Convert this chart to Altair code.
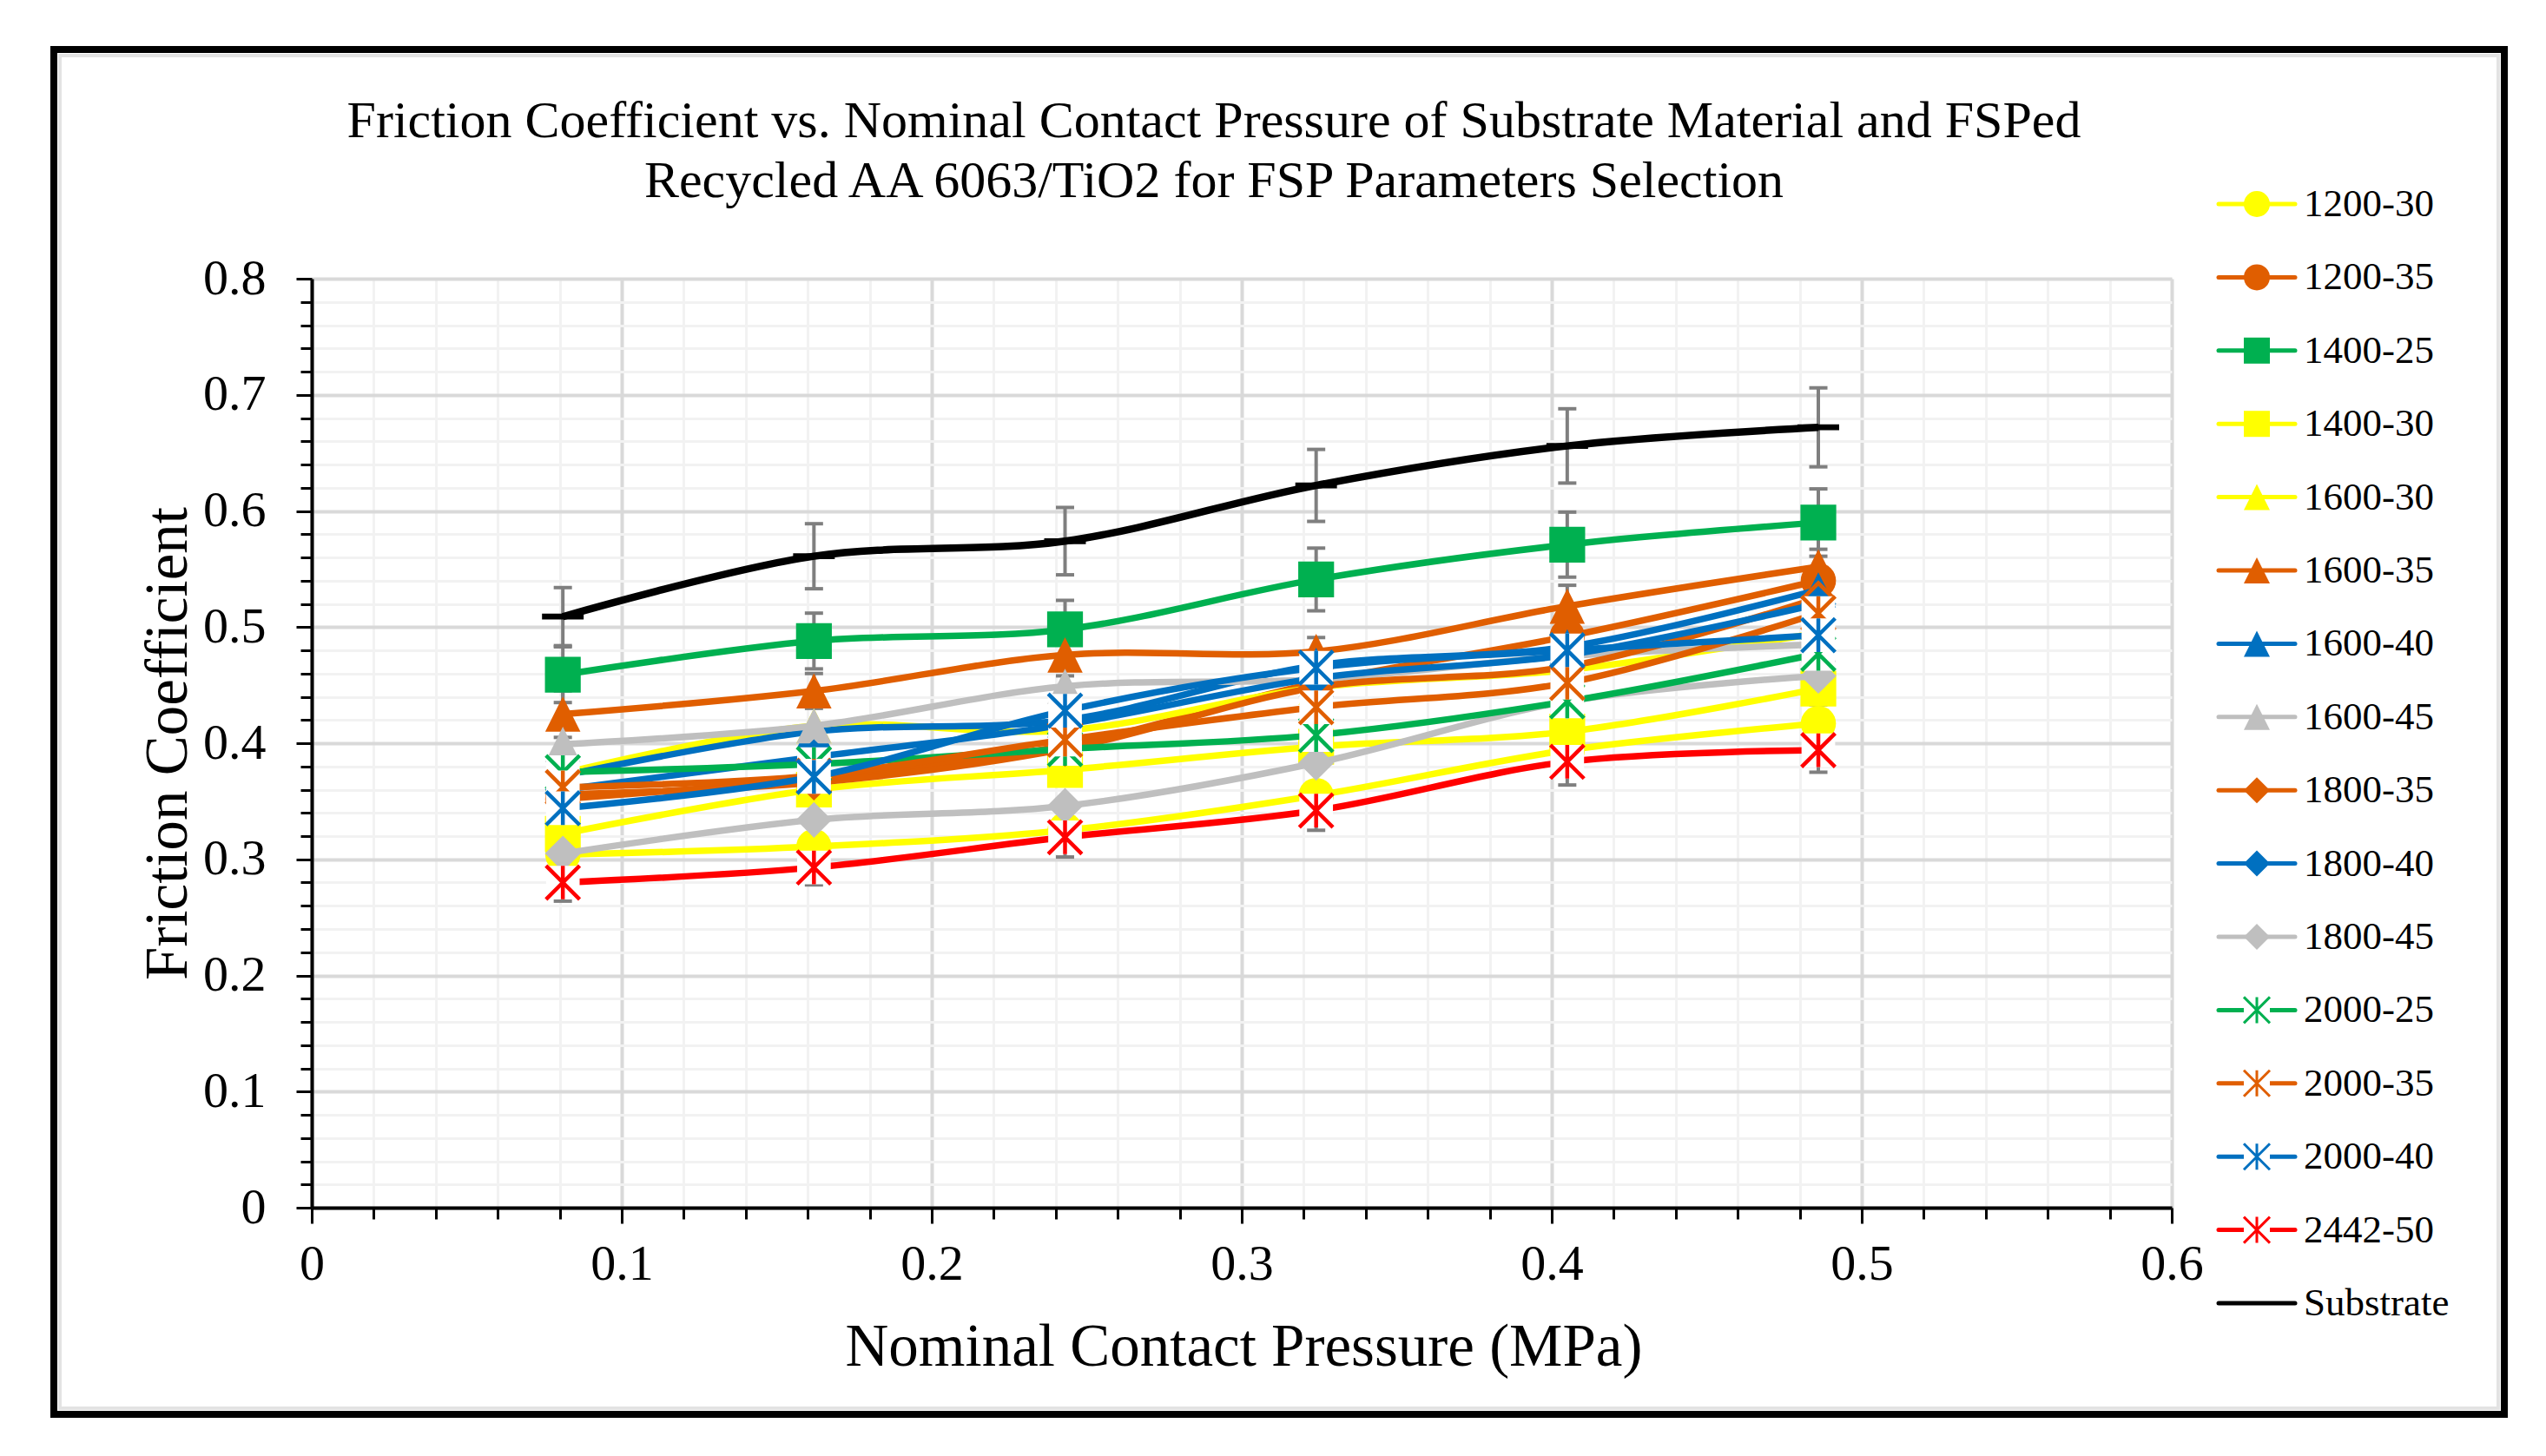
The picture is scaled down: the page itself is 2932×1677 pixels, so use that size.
import altair as alt
import pandas as pd

# ---------------- data ----------------
pressure = [0.081, 0.162, 0.243, 0.324, 0.405, 0.486]

series_names = ["1200-30", "1200-35", "1400-25", "1400-30", "1600-30", "1600-35",
                "1600-40", "1600-45", "1800-35", "1800-40", "1800-45", "2000-25",
                "2000-35", "2000-40", "2442-50", "Substrate"]

v_1200_30 = [0.304, 0.311, 0.325, 0.355, 0.394, 0.417]
v_1200_35 = [0.352, 0.370, 0.398, 0.452, 0.492, 0.540]
v_1400_25 = [0.459, 0.488, 0.498, 0.541, 0.571, 0.590]
v_1400_30 = [0.322, 0.360, 0.377, 0.397, 0.410, 0.447]
v_1600_30 = [0.374, 0.415, 0.411, 0.448, 0.463, 0.495]
v_1600_35 = [0.425, 0.445, 0.476, 0.479, 0.518, 0.552]
v_1600_40 = [0.372, 0.410, 0.420, 0.467, 0.483, 0.532]
v_1600_45 = [0.399, 0.415, 0.449, 0.455, 0.475, 0.485]
v_1800_35 = [0.356, 0.366, 0.395, 0.448, 0.466, 0.525]
v_1800_40 = [0.360, 0.388, 0.416, 0.456, 0.476, 0.520]
v_1800_45 = [0.305, 0.334, 0.346, 0.383, 0.436, 0.458]
v_2000_25 = [0.375, 0.382, 0.395, 0.407, 0.436, 0.477]
v_2000_35 = [0.362, 0.372, 0.403, 0.431, 0.452, 0.512]
v_2000_40 = [0.344, 0.371, 0.428, 0.465, 0.480, 0.493]
v_2442_50 = [0.280, 0.293, 0.319, 0.342, 0.384, 0.394]
v_substrate = [0.509, 0.561, 0.574, 0.622, 0.656, 0.672]

err_1400_25 = [0.024, 0.024, 0.025, 0.027, 0.028, 0.029]
err_1400_30 = [0.012, 0.013, 0.013, 0.012, 0.012, 0.014]
err_1600_35 = [0.020, 0.015, 0.018, 0.012, 0.018, 0.015]
err_2442_50 = [0.016, 0.015, 0.017, 0.017, 0.020, 0.019]
err_substrate = [0.025, 0.028, 0.029, 0.031, 0.032, 0.034]

series_colors = ["#FFFF00", "#E05E00", "#00B050", "#FFFF00", "#FFFF00", "#E05E00",
                 "#0070C0", "#BFBFBF", "#E05E00", "#0070C0", "#BFBFBF", "#00B050",
                 "#E05E00", "#0070C0", "#FF0000", "#000000"]
series_markers = ["circle", "circle", "square", "square", "triangle", "triangle",
                  "triangle", "triangle", "diamond", "diamond", "diamond", "star",
                  "star", "star", "star", "dash"]

title_lines = ["Friction Coefficient vs. Nominal Contact Pressure of Substrate Material and FSPed",
               "Recycled AA 6063/TiO2 for FSP Parameters Selection"]
x_title = "Nominal Contact Pressure (MPa)"
y_title = "Friction Coefficient"

# ---------------- build tables ----------------
values = dict(zip(series_names, [v_1200_30, v_1200_35, v_1400_25, v_1400_30, v_1600_30,
                                 v_1600_35, v_1600_40, v_1600_45, v_1800_35, v_1800_40,
                                 v_1800_45, v_2000_25, v_2000_35, v_2000_40, v_2442_50,
                                 v_substrate]))
errors = {"1400-25": err_1400_25, "1400-30": err_1400_30, "1600-35": err_1600_35,
          "2442-50": err_2442_50, "Substrate": err_substrate}

rows = []
for name in series_names:
    for i, xv in enumerate(pressure):
        yv = values[name][i]
        e = errors.get(name)
        rows.append({"series": name, "x": xv, "y": yv,
                     "lo": (yv - e[i]) if e else None,
                     "hi": (yv + e[i]) if e else None})
df = pd.DataFrame(rows)
err_df = df.dropna(subset=["lo"])

SHAPES = {
    "circle": "circle",
    "square": "square",
    "triangle": "M0,-1L1,1L-1,1Z",
    "diamond": "diamond",
    "star": "M-1,-1L1,1M-1,1L1,-1M0,-1L0,1",
    "dash": "M-1,-0.14L1,-0.14L1,0.14L-1,0.14Z",
}
SIZES = {"circle": 1650, "square": 1700, "triangle": 1650, "diamond": 1700,
         "star": 1500, "dash": 2300}

FONT = "Liberation Serif"
W, H = 2142, 1070

major = "abs(datum.value*10 - round(datum.value*10)) < 0.001"
x_tick_vals = [round(i * 0.02, 2) for i in range(31)]
y_tick_vals = [round(i * 0.02, 2) for i in range(41)]

common_axis = dict(
    domainColor="black", domainWidth=4, tickColor="black", tickWidth=3,
    tickSize={"condition": {"test": major, "value": 18}, "value": 13},
    grid=True,
    gridColor={"condition": {"test": major, "value": "#D9D9D9"}, "value": "#F2F2F2"},
    gridWidth={"condition": {"test": major, "value": 4}, "value": 3},
    labelFont=FONT, labelFontSize=58, labelColor="black", labelOverlap=False,
    labelFlush=False, labelBound=False,
    labelExpr=f"{major} ? format(datum.value, '.1~f') : ''",
    titleFont=FONT, titleFontSize=69, titleFontWeight="normal", titleColor="black",
)
x_axis = alt.Axis(values=x_tick_vals, title=x_title, labelPadding=18,
                  titleX=1073, titleY=181, titleAlign="center", titleBaseline="alphabetic",
                  **common_axis)
y_axis = alt.Axis(values=y_tick_vals, title=y_title, labelPadding=35,
                  titleX=-145, titleY=535, titleAngle=-90, titleAlign="center",
                  titleBaseline="alphabetic", **common_axis)

xs = alt.Scale(domain=[0, 0.6], nice=False, zero=False)
ys = alt.Scale(domain=[0, 0.8], nice=False, zero=False)

def X(field="x"):
    return alt.X(f"{field}:Q", scale=xs, axis=x_axis)

def Y(field):
    return alt.Y(f"{field}:Q", scale=ys, axis=y_axis)

frame_df = pd.DataFrame({"f": [1]})
layers = []
# outer frame
layers.append(alt.Chart(frame_df).mark_rect(filled=False, color="black", stroke="black", strokeWidth=8).encode(
    x=alt.value(-297), x2=alt.value(2525), y=alt.value(-264), y2=alt.value(1308)))
layers.append(alt.Chart(frame_df).mark_rect(filled=False, color="#E3E3E3", stroke="#E3E3E3", strokeWidth=4).encode(
    x=alt.value(-290), x2=alt.value(2518), y=alt.value(-257), y2=alt.value(1301)))

# error bars
layers.append(alt.Chart(err_df).mark_rule(color="#7F7F7F", strokeWidth=4).encode(
    x=X(), y=Y("lo"), y2=alt.Y2("hi:Q")))
layers.append(alt.Chart(err_df).mark_tick(color="#7F7F7F", thickness=4, size=21, orient="horizontal", opacity=1).encode(
    x=X(), y=Y("lo")))
layers.append(alt.Chart(err_df).mark_tick(color="#7F7F7F", thickness=4, size=21, orient="horizontal", opacity=1).encode(
    x=X(), y=Y("hi")))

for name, col, mk in zip(series_names, series_colors, series_markers):
    sub = df[df["series"] == name]
    lw = 8.5 if name == "Substrate" else 7.5
    layers.append(alt.Chart(sub).mark_line(color=col, strokeWidth=lw, interpolate="catmull-rom").encode(
        x=X(), y=Y("y")))
    if mk == "star":
        layers.append(alt.Chart(sub).mark_point(shape="square", filled=True, color="white",
                                                size=SIZES[mk], opacity=1).encode(x=X(), y=Y("y")))
        layers.append(alt.Chart(sub).mark_point(shape=SHAPES[mk], filled=False, color=col,
                                                strokeWidth=4.5, size=SIZES[mk], opacity=1).encode(x=X(), y=Y("y")))
    else:
        layers.append(alt.Chart(sub).mark_point(shape=SHAPES[mk], filled=True, color=col,
                                                size=SIZES[mk], opacity=1, strokeWidth=0).encode(x=X(), y=Y("y")))

main = alt.layer(*layers)

# ---------------- manual legend ----------------
leg_df = pd.DataFrame({"series": series_names, "color": series_colors, "marker": series_markers})
marker_names = [n for n, m in zip(series_names, series_markers) if m != "dash"]
marker_paths = [SHAPES[m] for m in series_markers if m != "dash"]
leg_y = alt.Y("series:N", scale=alt.Scale(type="point", domain=series_names, range=[-86, 1180], padding=0), axis=None)
leg_color = alt.Color("series:N", scale=alt.Scale(domain=series_names, range=series_colors), legend=None)
leg_shape = alt.Shape("series:N", scale=alt.Scale(domain=marker_names, range=marker_paths), legend=None)

leg_base = alt.Chart(leg_df)
leg_line = leg_base.mark_rule(strokeWidth=5, strokeCap="round").encode(
    y=leg_y, x=alt.value(2196), x2=alt.value(2284), color=leg_color)
leg_fill = leg_base.transform_filter(
    "datum.marker != 'star' && datum.marker != 'dash'").mark_point(filled=True, size=900, opacity=1, strokeWidth=0).encode(
    y=leg_y, x=alt.value(2240), color=leg_color, shape=leg_shape)
leg_box = leg_base.transform_filter("datum.marker == 'star'").mark_point(
    filled=True, shape="square", color="white", size=900, opacity=1).encode(y=leg_y, x=alt.value(2240))
leg_star = leg_base.transform_filter("datum.marker == 'star'").mark_point(
    filled=False, size=900, opacity=1, strokeWidth=3).encode(
    y=leg_y, x=alt.value(2240), color=leg_color, shape=leg_shape)
leg_text = leg_base.mark_text(align="left", baseline="middle", font=FONT, fontSize=45, color="black").encode(
    y=leg_y, x=alt.value(2294), text="series:N")
legend = alt.layer(leg_line, leg_box, leg_fill, leg_star, leg_text)

chart = alt.layer(main, legend).resolve_scale(y="independent").properties(
    width=W, height=H,
    padding={"left": 50, "top": 45, "right": 0, "bottom": 0},
    title=alt.TitleParams(text=title_lines, font=FONT, fontSize=60, fontWeight="normal",
                          color="black", anchor="middle", frame="group", offset=-187,
                          dx=-32, lineHeight=69),
).configure_view(stroke=None).configure(background="white")

chart.save("out.html", embed_options={"renderer": "svg", "actions": False})
